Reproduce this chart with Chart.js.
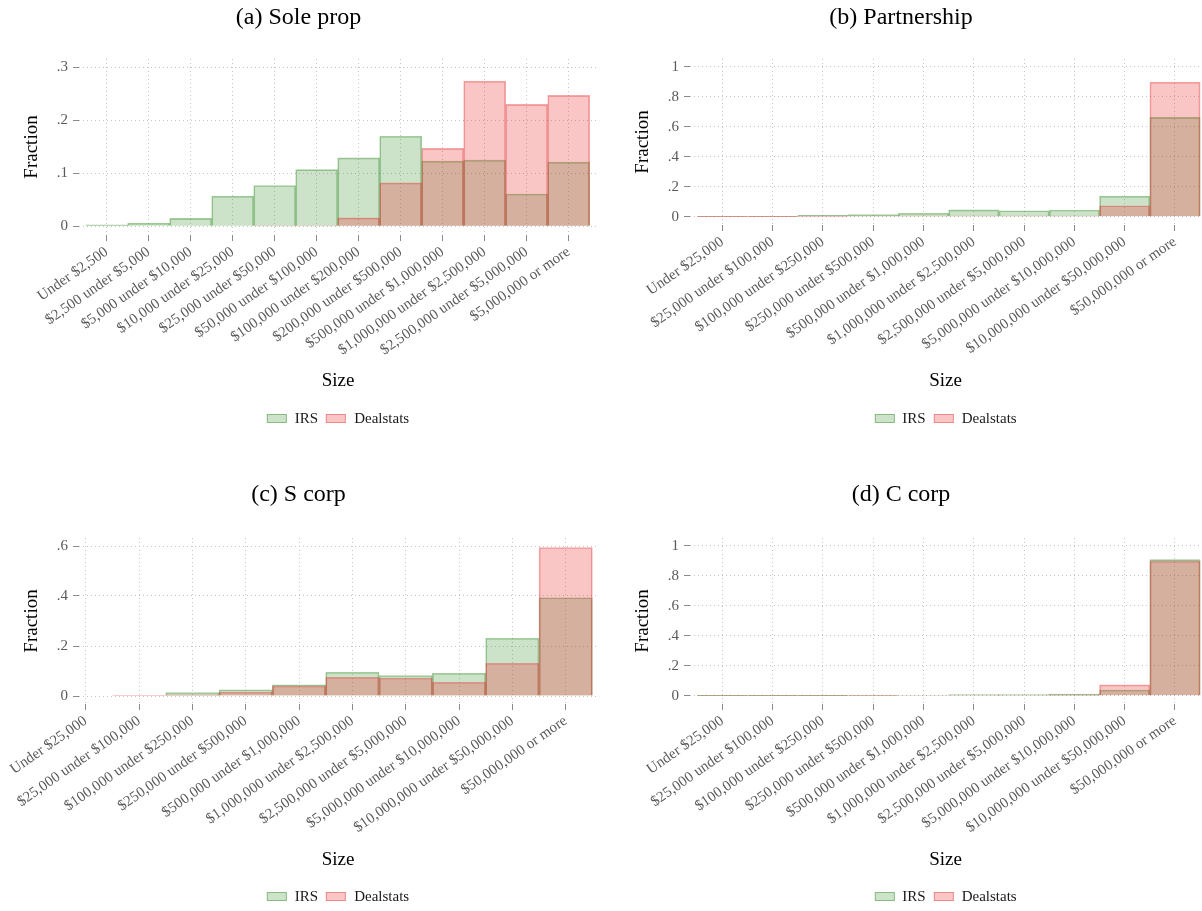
<!DOCTYPE html>
<html>
<head>
<meta charset="utf-8">
<title>Firm size distributions: IRS vs Dealstats</title>
<script src="https://cdn.jsdelivr.net/npm/chart.js@4.4.1/dist/chart.umd.min.js"></script>
<style>
  html, body { margin: 0; padding: 0; background: #fff; }
  #wrap { position: relative; width: 1202px; height: 911px; overflow: hidden; background: #fff; }
  canvas { position: absolute; display: block; }
  .legend { position: absolute; display: flex; align-items: center; transform: translateX(-50%);
            font-family: 'Liberation Serif', 'Times New Roman', serif; font-size: 15px; line-height: 17px;
            color: #1a1a1a; white-space: nowrap; }
  .legend .box { display: inline-block; width: 20px; height: 9px; box-sizing: border-box; border: 1px solid; }
  .legend .txt { margin: 0 8px 0 8px; }
  .legend .txt.last { margin-right: 0; }
</style>
</head>
<body>
<div id="wrap">
  <canvas id="cSole" width="601" height="450" style="left:0;top:0;width:601px;height:450px"></canvas>
  <canvas id="cPart" width="601" height="450" style="left:601px;top:0;width:601px;height:450px"></canvas>
  <canvas id="cScorp" width="601" height="432" style="left:0;top:479px;width:601px;height:432px"></canvas>
  <canvas id="cCcorp" width="601" height="432" style="left:601px;top:479px;width:601px;height:432px"></canvas>
</div>
<script>
// Size brackets (receipts) used by each entity type
const bracketsSole = [
  'Under $2,500', '$2,500 under $5,000', '$5,000 under $10,000', '$10,000 under $25,000',
  '$25,000 under $50,000', '$50,000 under $100,000', '$100,000 under $200,000',
  '$200,000 under $500,000', '$500,000 under $1,000,000', '$1,000,000 under $2,500,000',
  '$2,500,000 under $5,000,000', '$5,000,000 or more'
];
const bracketsCorp = [
  'Under $25,000', '$25,000 under $100,000', '$100,000 under $250,000', '$250,000 under $500,000',
  '$500,000 under $1,000,000', '$1,000,000 under $2,500,000', '$2,500,000 under $5,000,000',
  '$5,000,000 under $10,000,000', '$10,000,000 under $50,000,000', '$50,000,000 or more'
];

// Fraction of firms in each bracket (null = no bar)
const irsSole  = [0.003, 0.006, 0.015, 0.057, 0.077, 0.107, 0.129, 0.170, 0.123, 0.125, 0.061, 0.121];
const dealSole = [null, null, null, null, 0.001, 0.001, 0.016, 0.082, 0.147, 0.274, 0.230, 0.247];

const irsPart  = [0.002, 0.002, 0.010, 0.015, 0.023, 0.046, 0.040, 0.045, 0.137, 0.663];
const dealPart = [0.001, 0.001, 0.002, 0.003, 0.004, 0.004, 0.004, 0.005, 0.073, 0.899];

const irsScorp  = [null, 0.002, 0.014, 0.025, 0.045, 0.095, 0.082, 0.091, 0.231, 0.393];
const dealScorp = [null, 0.003, 0.005, 0.016, 0.040, 0.075, 0.072, 0.055, 0.131, 0.594];

const irsCcorp  = [0.001, 0.001, 0.001, 0.002, 0.003, 0.008, 0.008, 0.011, 0.038, 0.907];
const dealCcorp = [0.002, 0.002, 0.002, 0.002, 0.003, 0.004, 0.004, 0.005, 0.072, 0.896];

// Y-axis tick values and their printed labels
const yTicksSole = [0, 0.1, 0.2, 0.3];
const yLabelsSole = ['0', '.1', '.2', '.3'];
const yTicksUnit = [0, 0.2, 0.4, 0.6, 0.8, 1];
const yLabelsUnit = ['0', '.2', '.4', '.6', '.8', '1'];
const yTicksScorp = [0, 0.2, 0.4, 0.6];
const yLabelsScorp = ['0', '.2', '.4', '.6'];

const seriesNames = ['IRS', 'Dealstats'];

// Styling
const SERIF = "'Liberation Serif', 'Times New Roman', serif";
const IRS_FILL = 'rgba(50,140,40,0.25)';
const IRS_LINE = 'rgba(50,140,40,0.45)';
const DEAL_FILL = 'rgba(235,40,40,0.27)';
const DEAL_LINE = 'rgba(225,65,65,0.45)';
const GRID = '#c4c4c4';
const TICK_MARK = '#8a8a8a';
const TICK_TEXT = '#5a5a5a';

Chart.defaults.font.family = SERIF;

function histogram(canvasId, p) {
  const pts = arr => arr.map((v, i) => ({ x: i, y: v }));
  return new Chart(document.getElementById(canvasId), {
    type: 'bar',
    data: {
      datasets: [
        { label: seriesNames[0], data: pts(p.irs), backgroundColor: IRS_FILL, borderColor: IRS_LINE,
          borderWidth: 1, order: 1 },
        { label: seriesNames[1], data: pts(p.deal), backgroundColor: DEAL_FILL, borderColor: DEAL_LINE,
          borderWidth: 1, order: 0 }
      ]
    },
    options: {
      responsive: false,
      animation: false,
      events: [],
      layout: { autoPadding: false, padding: { left: 0, right: p.padRight, top: 0, bottom: 0 } },
      datasets: { bar: { grouped: false, barPercentage: 1, categoryPercentage: 1 } },
      plugins: {
        legend: { display: false },
        tooltip: { enabled: false },
        title: {
          display: true, text: p.title, color: '#000',
          font: { family: SERIF, size: 24, weight: 'normal' },
          padding: { top: p.titleTop, bottom: p.titleBottom }
        }
      },
      scales: {
        x: {
          type: 'linear', min: p.xMin, max: p.xMax, offset: false,
          afterBuildTicks: s => { s.ticks = p.cats.map((_, i) => ({ value: i })); },
          afterFit: s => { s.height = p.xAxisHeight; },
          ticks: {
            autoSkip: false, minRotation: 35, maxRotation: 35, padding: 2,
            color: TICK_TEXT, font: { family: SERIF, size: 15 },
            callback: v => p.cats[v]
          },
          grid: { offset: false, color: GRID, lineWidth: 1, tickColor: TICK_MARK, tickLength: 6, tickBorderDash: [] },
          border: { display: false, dash: [1, 3] },
          title: {
            display: true, text: 'Size', color: '#000',
            font: { family: SERIF, size: 19 },
            padding: { top: 0, bottom: p.sizeBottom }
          }
        },
        y: {
          min: p.yMin, max: p.yMax,
          afterBuildTicks: s => { s.ticks = p.yTicks.map(v => ({ value: v })); },
          afterFit: s => { s.width = p.yAxisWidth; },
          ticks: {
            padding: 5, color: TICK_TEXT, font: { family: SERIF, size: 15 },
            callback: (v, i) => p.yLabels[i]
          },
          grid: { color: GRID, lineWidth: 1, tickColor: TICK_MARK, tickLength: 6, tickBorderDash: [] },
          border: { display: false, dash: [1, 3] },
          title: {
            display: true, text: 'Fraction', color: '#000',
            font: { family: SERIF, size: 19 },
            padding: { top: p.fracTop, bottom: 0 }
          }
        }
      }
    }
  });
}

function legend(centerX, top) {
  const el = document.createElement('div');
  el.className = 'legend';
  el.style.left = centerX + 'px';
  el.style.top = top + 'px';
  el.innerHTML =
    '<span class="box" style="background:' + IRS_FILL + ';border-color:' + IRS_LINE + '"></span>' +
    '<span class="txt">' + seriesNames[0] + '</span>' +
    '<span class="box" style="background:' + DEAL_FILL + ';border-color:' + DEAL_LINE + '"></span>' +
    '<span class="txt last">' + seriesNames[1] + '</span>';
  document.getElementById('wrap').appendChild(el);
}

histogram('cSole', {
  title: '(a) Sole prop', cats: bracketsSole, irs: irsSole, deal: dealSole,
  xMin: -0.66, xMax: 11.674, yMin: -0.0164, yMax: 0.3157,
  yTicks: yTicksSole, yLabels: yLabelsSole,
  padRight: 4, titleTop: 3.6, titleBottom: 26.6,
  yAxisWidth: 79, xAxisHeight: 215, sizeBottom: 57.6, fracTop: 20.6
});
histogram('cPart', {
  title: '(b) Partnership', cats: bracketsCorp, irs: irsPart, deal: dealPart,
  xMin: -0.642, xMax: 9.517, yMin: -0.0554, yMax: 1.0534,
  yTicks: yTicksUnit, yLabels: yLabelsUnit,
  padRight: 1, titleTop: 3.6, titleBottom: 26.6,
  yAxisWidth: 89, xAxisHeight: 225, sizeBottom: 57.3, fracTop: 30.6
});
histogram('cScorp', {
  title: '(c) S corp', cats: bracketsCorp, irs: irsScorp, deal: dealScorp,
  xMin: -0.126, xMax: 9.587, yMin: -0.032, yMax: 0.632,
  yTicks: yTicksScorp, yLabels: yLabelsScorp,
  padRight: 4, titleTop: 1.6, titleBottom: 28.6,
  yAxisWidth: 79, xAxisHeight: 207, sizeBottom: 39.6, fracTop: 20.6
});
histogram('cCcorp', {
  title: '(d) C corp', cats: bracketsCorp, irs: irsCcorp, deal: dealCcorp,
  xMin: -0.642, xMax: 9.517, yMin: -0.0553, yMax: 1.051,
  yTicks: yTicksUnit, yLabels: yLabelsUnit,
  padRight: 1, titleTop: 1.6, titleBottom: 28.6,
  yAxisWidth: 89, xAxisHeight: 207, sizeBottom: 39.6, fracTop: 30.6
});

legend(338, 410);
legend(945.5, 410);
legend(338, 888);
legend(945.5, 888);
</script>
</body>
</html>
